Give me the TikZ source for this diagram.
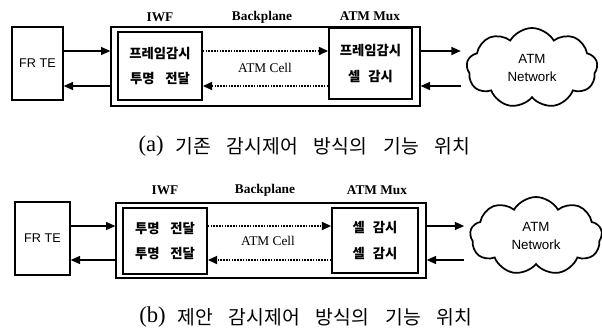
\documentclass[tikz,border=0pt]{standalone}
\usepackage{fontspec}
\setmainfont{Liberation Serif}
\setsansfont{Liberation Sans}
\newfontfamily\kofont{Noto Sans CJK KR}
\newfontfamily\capfont{Noto Sans CJK KR}
\newcommand{\wgap}{\hspace{12pt}}
\usetikzlibrary{arrows.meta}
\usetikzlibrary{shapes.symbols}

\tikzset{
  box/.style={draw, line width=1pt, inner sep=0pt, font=\sffamily\fontsize{9.5}{12}\selectfont},
  unit/.style={draw, line width=1.3pt, inner sep=0pt, align=center, font=\kofont\bfseries\fontsize{10}{19}\selectfont},
  head/.style={font=\bfseries\fontsize{10}{12}\selectfont},
  flow/.style={line width=1pt, -{Triangle[length=7pt,width=6pt]}},
  cell/.style={flow, dash pattern=on 1.2pt off 0.9pt, line width=1.5pt},
  net/.style={cloud, cloud puffs=9, cloud puff arc=120, cloud ignores aspect, draw, line width=1.3pt, align=center, inner sep=0pt, font=\sffamily\fontsize{10}{13}\selectfont},
  caption/.style={font=\fontsize{17}{19}\selectfont},
  captext/.style={font=\capfont\fontsize{14.5}{17}\selectfont},
}

\begin{document}
\begin{tikzpicture}[x=0.75pt,y=0.75pt,yscale=-1,xscale=1]
\useasboundingbox (0,0) rectangle (602,329);

%(a) existing
\node [box, minimum width=38.25pt, minimum height=54.75pt] (frteA) at (37.5,63.5) {FR TE};
\node [box, minimum width=231.75pt, minimum height=59.25pt] (busA) at (265.5,66.5) {};
\node [unit, minimum width=63pt, minimum height=51pt] (iwfA) at (160,66) {프레임감시\\투명\hspace{0.8em}전달};
\node [unit, minimum width=62.25pt, minimum height=53.25pt] (muxA) at (370.5,63.5) {프레임감시\\셀\hspace{0.6em}감시};
\node [net, minimum width=98.25pt, minimum height=60pt] (netA) at (532,68) {ATM\\Network};
\coordinate (upA) at (0,51);
\coordinate (dnA) at (0,86);

% Text Node
\node [head] (iwfhA) at (160,17) {IWF};
\node [head] (bpA) at (262,17) {Backplane};
\node [head] (muxhA) at (370,16) {ATM Mux};
\node [font=\fontsize{10}{12}\selectfont] (cellA) at (265,68) {ATM Cell};
\node [caption, anchor=east, inner sep=0pt] (capA) at (164,146) {(a)};
\node [captext, anchor=west, inner sep=0pt] (captA) at (175,146) {기존\wgap 감시제어\wgap 방식의\wgap 기능\wgap 위치};

\draw [flow] (frteA.east |- upA) -- (busA.west |- upA);
\draw [flow] (busA.west |- dnA) -- (frteA.east |- dnA);
\draw [cell] (iwfA.east |- upA) -- (muxA.west |- upA);
\draw [cell] (muxA.west |- dnA) -- (iwfA.east |- dnA);
\draw [flow, shorten >=4pt] (busA.east |- upA) -- (netA.west |- upA);
\draw [flow, shorten <=4pt] (netA.west |- dnA) -- (busA.east |- dnA);

%(b) proposed
\node [box, minimum width=41.25pt, minimum height=54.75pt] (frteB) at (42.5,238.5) {FR TE};
\node [box, minimum width=232.5pt, minimum height=56.25pt] (busB) at (271,240.5) {};
\node [unit, minimum width=63pt, minimum height=49.5pt] (iwfB) at (165,241) {투명\hspace{0.8em}전달\\투명\hspace{0.8em}전달};
\node [unit, minimum width=64.5pt, minimum height=48.75pt] (muxB) at (375,240.5) {셀\hspace{0.6em}감시\\셀\hspace{0.6em}감시};
\node [net, minimum width=99pt, minimum height=58.5pt] (netB) at (536,236) {ATM\\Network};
\coordinate (upB) at (0,226);
\coordinate (dnB) at (0,260);

% Text Node
\node [head] (iwfhB) at (165,190) {IWF};
\node [head] (bpB) at (265,190) {Backplane};
\node [head] (muxhB) at (377,190) {ATM Mux};
\node [font=\fontsize{10}{12}\selectfont] (cellB) at (268,241) {ATM Cell};
\node [caption, anchor=east, inner sep=0pt] (capB) at (166,317) {(b)};
\node [captext, anchor=west, inner sep=0pt] (captB) at (177,317) {제안\wgap 감시제어\wgap 방식의\wgap 기능\wgap 위치};

\draw [flow] (frteB.east |- upB) -- (busB.west |- upB);
\draw [flow] (busB.west |- dnB) -- (frteB.east |- dnB);
\draw [cell] (iwfB.east |- upB) -- (muxB.west |- upB);
\draw [cell] (muxB.west |- dnB) -- (iwfB.east |- dnB);
\draw [flow, shorten >=4pt] (busB.east |- upB) -- (netB.west |- upB);
\draw [flow, shorten <=4pt] (netB.west |- dnB) -- (busB.east |- dnB);

\end{tikzpicture}
\end{document}
